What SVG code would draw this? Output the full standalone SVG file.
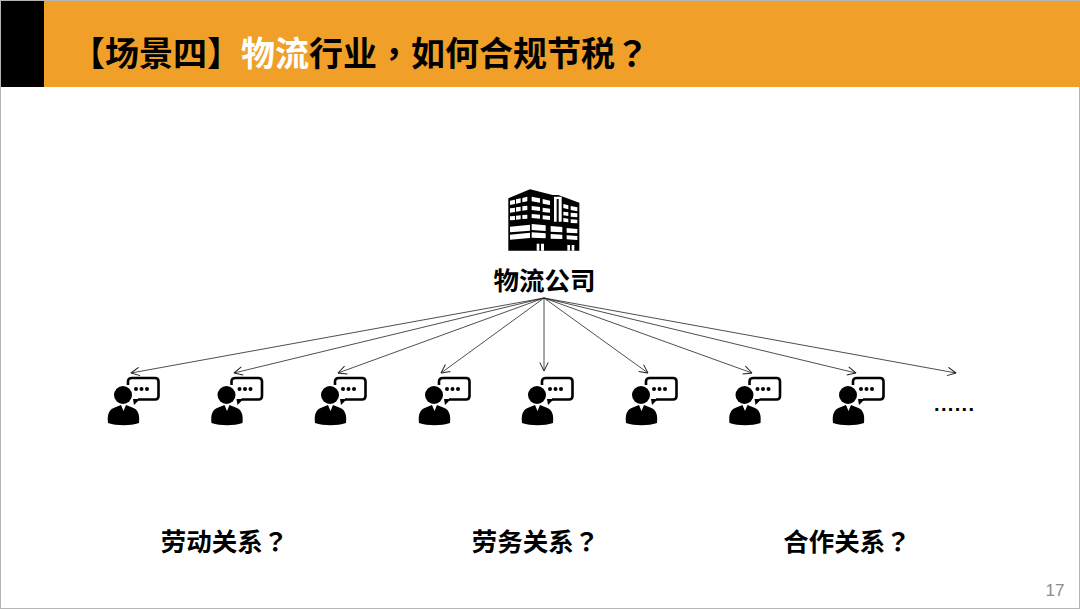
<svg xmlns="http://www.w3.org/2000/svg" width="1080" height="609" viewBox="0 0 1080 609">
<style>
text{font-family:"Liberation Sans","Noto Sans CJK SC",sans-serif;font-weight:700;fill:#000}
.lbl{font-size:25.500px;text-anchor:middle}
.tc{font-family:"Noto Sans CJK TC",sans-serif}
.conn{stroke:#222;stroke-width:.8;fill:none;marker-end:url(#a)}
</style>
<defs>
<marker id="a" viewBox="0 0 10 10" refX="9.5" refY="5" markerWidth="10" markerHeight="10" markerUnits="userSpaceOnUse" orient="auto"><path d="M1 .8 9.500 5 1 9.200" fill="none" stroke="#222" stroke-width="1"/></marker>
<g id="p">
<circle cx="123" cy="395" r="9" fill="#000"/>
<path d="M108 423C107 414 109 409 116 407L121 405 123.500 411 126 405 131 407C138 409 140 414 139 423 130 426 117 426 108 423Z" fill="#000"/>
<path d="M128 385V381.500Q128 378 132 378H155Q158.500 378 158.500 381.500V396Q158.500 399.500 155 399.500H138" fill="none" stroke="#000" stroke-width="2.600"/>
<path d="M133 399H140L134 405Z" fill="#000"/>
<circle cx="136" cy="389" r="2" fill="#000"/><circle cx="141.500" cy="389" r="2" fill="#000"/><circle cx="147" cy="389" r="2" fill="#000"/>
</g>
</defs>
<rect width="1080" height="609" fill="#fff"/>
<rect x=".5" y=".5" width="1079" height="608" fill="none" stroke="#b5b5b5"/>
<g id="header">
<rect x="1" y="1" width="1079" height="86" fill="#f0a028"/>
<rect x="1" y="1" width="43" height="86" fill="#000"/>
<text x="71" y="65.500" font-size="34">【场景四】<tspan fill="#fff">物流</tspan>行业<tspan class="tc">，</tspan>如何合规节税<tspan class="tc">？</tspan></text>
</g>
<g id="company">
<g transform="translate(480 180) scale(.33333)">
<path d="M85 55 150 28 218 45H235L298 68V212H85Z" fill="#000"/>
<path fill="#fff" d="M90 62 105 59V72L90 75ZM108 58 122 55V68L108 71ZM127 54 142 50V64L127 67ZM155 50 180 55V68L155 64ZM188 57 210 62V75L188 71ZM250 72 265 76V88L250 84ZM272 78 292 82V94L272 90Z"/>
<path fill="#fff" d="M90 85 105 83V96L90 98ZM108 82 122 80V93L108 95ZM127 79 142 77V90L127 92ZM155 78 180 81V93L155 90ZM188 83 210 86V98L188 96ZM250 95 265 97V108L250 106ZM272 98 292 100V112L272 110Z"/>
<path fill="#fff" d="M90 109 105 108V120L90 121ZM108 107 122 106V118L108 119ZM127 105 142 104V116L127 117ZM155 102 180 104V116L155 114ZM188 106 210 108V120L188 118ZM250 114 265 116V127L250 125ZM272 118 292 119V130L272 129Z"/>
<path fill="#fff" d="M222 50H245V125H236V57H230V125H222Z"/>
<path fill="#fff" d="M90 140 150 134V152L90 157ZM155 132 197 136V153L155 150ZM212 138 247 141V157L212 155ZM260 144 292 147V160L260 158Z"/>
<path fill="#fff" d="M90 164 150 158V174L90 179ZM155 157 197 160V175L155 173ZM212 162 247 164V177L212 176ZM260 166 292 168V180L260 178Z"/>
<path fill="#fff" d="M170 191H178V212H170ZM183 191H192V212H183ZM262 195H270V212H262ZM275 195H283V212H275Z"/>
</g>
<text class="lbl" x="544.500" y="290">物流公司</text>
</g>
<g id="connectors">
<path class="conn" d="M544 298 131 373"/>
<path class="conn" d="M544 298 234 373"/>
<path class="conn" d="M544 298 338 373"/>
<path class="conn" d="M544 298 441 373"/>
<path class="conn" d="M544 298V371"/>
<path class="conn" d="M544 298 648 373"/>
<path class="conn" d="M544 298 752 373"/>
<path class="conn" d="M544 298 856 373"/>
<path class="conn" d="M544 298 956 373"/>
</g>
<g id="worker1"><use href="#p"/></g>
<g id="worker2"><use href="#p" x="103.500"/></g>
<g id="worker3"><use href="#p" x="207"/></g>
<g id="worker4"><use href="#p" x="311"/></g>
<g id="worker5"><use href="#p" x="414"/></g>
<g id="worker6"><use href="#p" x="518"/></g>
<g id="worker7"><use href="#p" x="621.500"/></g>
<g id="worker8"><use href="#p" x="725"/></g>
<g id="more"><text x="934" y="411" font-size="20" textLength="40">......</text></g>
<g id="q1"><text class="lbl" x="224.500" y="551">劳动关系<tspan class="tc">？</tspan></text></g>
<g id="q2"><text class="lbl" x="535.500" y="551">劳务关系<tspan class="tc">？</tspan></text></g>
<g id="q3"><text class="lbl" x="847" y="551">合作关系<tspan class="tc">？</tspan></text></g>
<text x="1055" y="596" font-size="17" text-anchor="middle" style="font-weight:400;fill:#8c8c8c">17</text>
</svg>
